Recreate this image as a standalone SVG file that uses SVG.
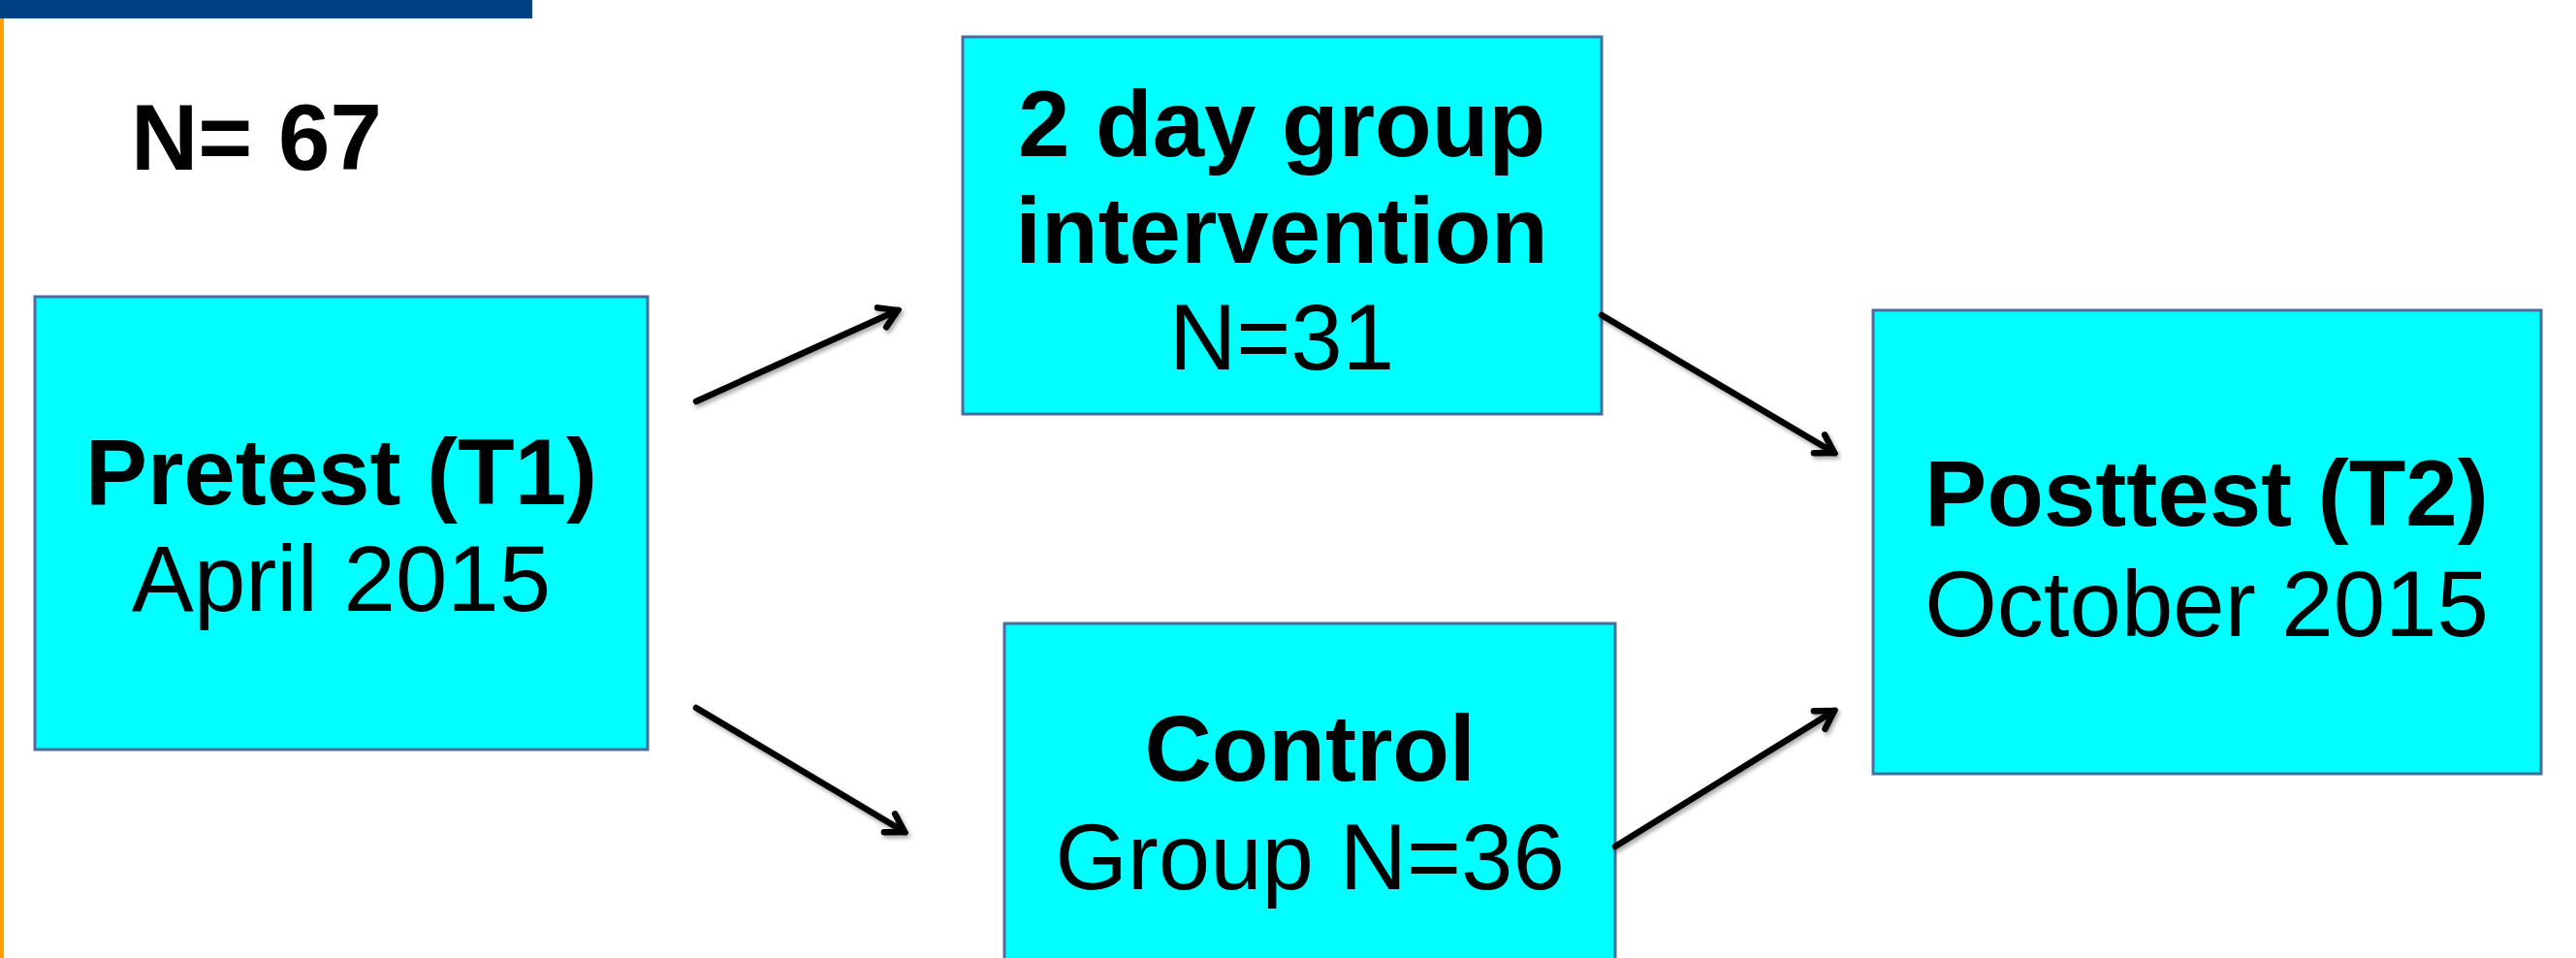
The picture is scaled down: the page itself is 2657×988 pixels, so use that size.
<svg xmlns="http://www.w3.org/2000/svg" width="2657" height="988" viewBox="0 0 2657 988">
<style>
.box{fill:#00ffff;stroke:#4a6c9e;stroke-width:3}
.b{font-family:"Liberation Sans",Arial,sans-serif;font-weight:bold;font-size:96px;fill:#000;text-anchor:middle}
.r{font-family:"Liberation Sans",Arial,sans-serif;font-size:96px;fill:#000;text-anchor:middle}
.conn{stroke:#000;stroke-width:6.5;fill:none;stroke-linecap:round;marker-end:url(#ah);filter:url(#sh)}
</style>
<defs>
<marker id="ah" markerUnits="userSpaceOnUse" viewBox="0 0 30 30" refX="26" refY="15" markerWidth="30" markerHeight="30" orient="auto">
<path d="M8,4 L26,15 L8,26" fill="none" stroke="#000" stroke-width="6.5" stroke-linecap="round" stroke-linejoin="miter"/>
</marker>
<filter id="sh" x="-10%" y="-10%" width="130%" height="140%">
<feDropShadow dx="2" dy="3" stdDeviation="2" flood-color="#000" flood-opacity="0.35"/>
</filter>
</defs>
<rect x="0" y="0" width="549" height="19" fill="#003f82"/>
<rect x="0" y="19" width="4" height="969" fill="#ffa000"/>
<text x="135" y="175" class="b" style="text-anchor:start">N= 67</text>
<g id="pretest">
<rect class="box" x="36" y="306" width="632" height="467"/>
<text x="352" y="520" class="b">Pretest (T1)</text>
<text x="352" y="630" class="r">April 2015</text>
</g>
<g id="intervention">
<rect class="box" x="993" y="38" width="659" height="389"/>
<text x="1322" y="161" class="b">2 day group</text>
<text x="1322" y="271" class="b">intervention</text>
<text x="1322" y="381" class="r">N=31</text>
</g>
<g id="control">
<rect class="box" x="1036" y="643" width="630" height="360"/>
<text x="1351" y="805" class="b">Control</text>
<text x="1351" y="917" class="r">Group N=36</text>
</g>
<g id="posttest">
<rect class="box" x="1932" y="320" width="689" height="478"/>
<text x="2276" y="542" class="b">Posttest (T2)</text>
<text x="2276" y="656" class="r">October 2015</text>
</g>
<g id="connectors">
<line class="conn" x1="718" y1="414" x2="926" y2="320"/>
<line class="conn" x1="718" y1="730" x2="933" y2="858"/>
<line class="conn" x1="1652" y1="325" x2="1892" y2="467"/>
<line class="conn" x1="1666" y1="873" x2="1892" y2="733"/>
</g>
</svg>
